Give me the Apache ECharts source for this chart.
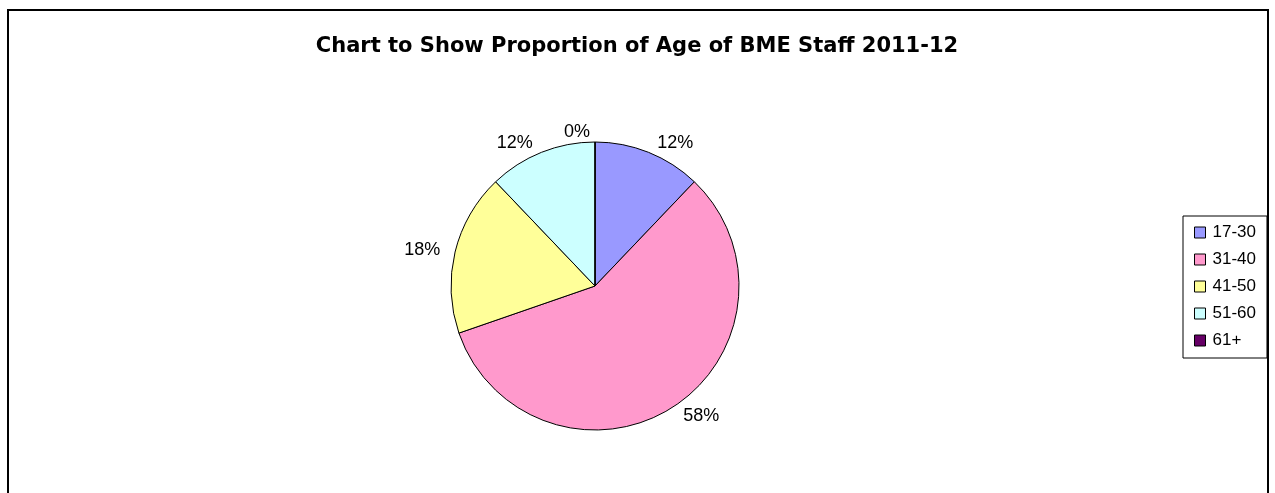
<!DOCTYPE html>
<html lang="en">
    <head>
        <meta charset="UTF-8">
        <title>BME Staff Age</title>
        <script src="https://cdn.jsdelivr.net/npm/echarts@6/dist/echarts.min.js"></script>
        <style>
            html, body {
                margin: 0;
                height: 100%;
                background: #fff;
            }
        </style>
    </head>
    <body>
        <div id="main" style="width: 1275px;height: 493px;"></div>
    </body>
</html>
<script>
    // age bands and staff counts
    var ageBands = ['17-30', '31-40', '41-50', '51-60', '61+'];
    var staffCount = [4, 19, 6, 4, 0];
    var bandColors = ['#9999FF', '#FF99CC', '#FFFF99', '#CCFFFF', '#660066'];

    var pieData = [];
    for (var i = 0; i < ageBands.length; i++) {
        pieData.push({
            name: ageBands[i],
            value: staffCount[i],
            itemStyle: {color: bandColors[i]}
        });
    }

    var myChart = echarts.init(document.getElementById('main'));

    var option = {
        backgroundColor: '#fff',
        animation: false,
        title: {
            text: 'Chart to Show Proportion of Age of BME Staff 2011-12',
            left: 632,
            textAlign: 'center',
            top: 31,
            textStyle: {
                fontFamily: 'DejaVu Sans',
                fontSize: 21,
                fontWeight: 'bold',
                color: '#000'
            }
        },
        legend: {
            orient: 'vertical',
            left: 1183,
            top: 216,
            padding: [8, 11, 9, 11],
            itemGap: 10,
            itemWidth: 11,
            itemHeight: 11,
            icon: 'rect',
            borderColor: '#000',
            borderWidth: 1,
            itemStyle: {borderColor: '#000', borderWidth: 1},
            textStyle: {
                fontFamily: 'Liberation Sans',
                fontSize: 17,
                color: '#000',
                padding: [0, 0, 0, 2]
            },
            data: ageBands
        },
        graphic: [{
            type: 'polyline',
            shape: {points: [[8, 493], [8, 10], [1268, 10], [1268, 493]]},
            style: {stroke: '#000', lineWidth: 2, fill: null}
        }],
        series: [{
            type: 'pie',
            center: [595, 286],
            radius: 144,
            startAngle: 90,
            clockwise: true,
            avoidLabelOverlap: false,
            minAngle: 0,
            itemStyle: {borderColor: '#000', borderWidth: 1},
            emphasis: {disabled: true},
            label: {
                show: true,
                position: 'outside',
                fontFamily: 'Liberation Sans',
                fontSize: 18,
                color: '#000',
                formatter: function (p) {
                    return Math.round(p.percent) + '%';
                }
            },
            labelLine: {show: false, length: 10, length2: 0},
            data: pieData
        }]
    };

    myChart.setOption(option);
</script>
